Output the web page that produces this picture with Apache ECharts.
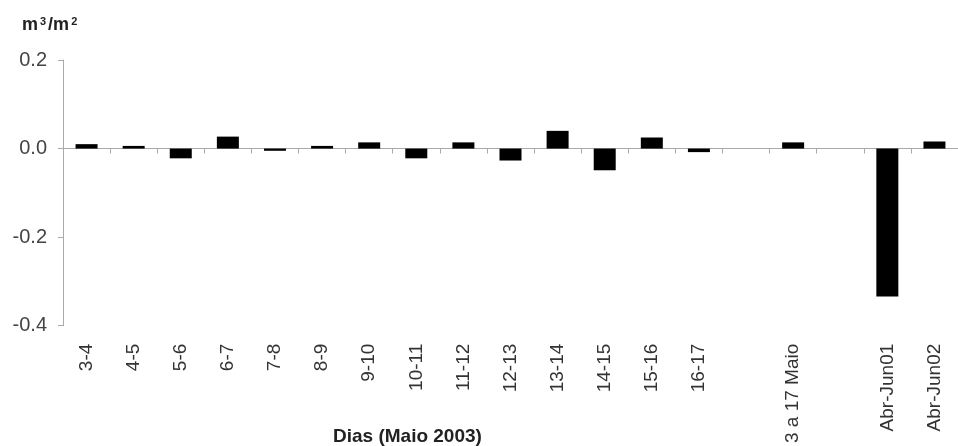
<!DOCTYPE html>
<html lang="pt">
<head>
    <meta charset="UTF-8">
    <title>Dias (Maio 2003)</title>
    <script src="https://cdn.jsdelivr.net/npm/echarts@6/dist/echarts.min.js"></script>
    <style type="text/css">
        html, body {
            margin: 0;
            padding: 0;
            background: #fff;
        }

        #chart {
            width: 958px;
            height: 446px;
        }
    </style>
</head>
<body>
<div id="chart"></div>
<script type="text/javascript">
    // categorias do eixo x (espaços vazios entre os grupos)
    const categorias = ['3-4', '4-5', '5-6', '6-7', '7-8', '8-9', '9-10', '10-11', '11-12', '12-13',
        '13-14', '14-15', '15-16', '16-17', '', '3 a 17 Maio', '', 'Abr-Jun01', 'Abr-Jun02'];
    // valores (m3/m2)
    const valores = [0.010, 0.006, -0.022, 0.027, -0.005, 0.006, 0.014, -0.022, 0.014, -0.027,
        0.040, -0.049, 0.025, -0.008, null, 0.014, null, -0.334, 0.016];
    const yMin = -0.4, yMax = 0.2, yPasso = 0.2;

    const fonte = 'Liberation Sans, Arial, sans-serif';
    const chart = echarts.init(document.getElementById('chart'));

    chart.setOption({
        animation: false,
        backgroundColor: '#fff',
        grid: {left: 63, top: 60, width: 903, bottom: 120},
        graphic: [{
            type: 'text',
            left: 22,
            top: 16,
            style: {
                text: '{m|m}{s|3}{m|/m}{s|2}',
                rich: {
                    m: {font: 'bold 18px ' + fonte, fill: '#222'},
                    s: {font: 'bold 11px ' + fonte, fill: '#222', verticalAlign: 'top', padding: [0, 2, 8, 2]}
                }
            }
        }, {
            type: 'text',
            left: 333,
            top: 427,
            style: {text: 'Dias (Maio 2003)', font: 'bold 19px ' + fonte, fill: '#222'}
        }],
        xAxis: [{
            // eixo com rótulos em baixo
            type: 'category',
            data: categorias,
            position: 'bottom',
            axisLine: {show: false, onZero: false},
            axisTick: {show: false},
            axisLabel: {
                rotate: 90, interval: 0, margin: 18,
                fontSize: 19, fontFamily: fonte, color: '#333'
            }
        }, {
            // linha do zero com marcas entre as categorias
            type: 'category',
            data: categorias,
            position: 'bottom',
            axisLine: {show: true, onZero: true, lineStyle: {color: '#aaa', width: 1}},
            axisTick: {show: true, alignWithLabel: false, length: 5, interval: 0, lineStyle: {color: '#aaa'}},
            axisLabel: {show: false}
        }],
        yAxis: {
            type: 'value',
            min: yMin,
            max: yMax,
            interval: yPasso,
            axisLine: {show: true, lineStyle: {color: '#aaa', width: 1}},
            axisTick: {show: true, length: 5, lineStyle: {color: '#aaa'}},
            splitLine: {show: false},
            axisLabel: {
                margin: 16, fontSize: 20, fontFamily: fonte, color: '#444',
                formatter: v => v.toFixed(1)
            }
        },
        series: [{
            type: 'bar',
            xAxisIndex: 0,
            data: valores,
            barWidth: 22,
            itemStyle: {color: '#000'}
        }]
    });
</script>
</body>
</html>
